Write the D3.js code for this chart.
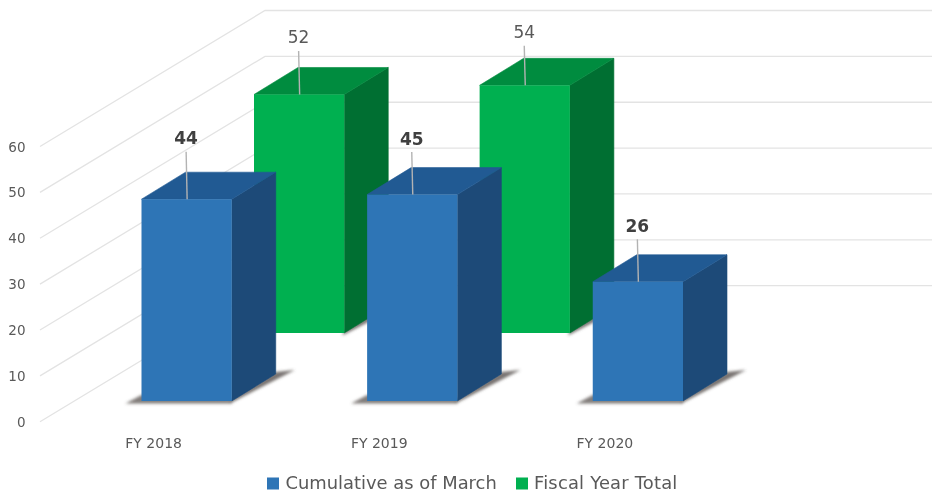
<!DOCTYPE html>
<html>
<head>
<meta charset="utf-8">
<script src="https://cdn.jsdelivr.net/npm/d3@7"></script>
<style>
  html, body { margin: 0; padding: 0; background: #fff; }
  svg { display: block; filter: blur(0.35px); }
  text { font-family: "DejaVu Sans", sans-serif; }
</style>
</head>
<body>
<div id="chart"></div>
<script>
const categories = ["FY 2018", "FY 2019", "FY 2020"];
const seriesNames = ["Fiscal Year Total", "Cumulative as of March"];
const cumulative = [44, 45, 26];
const fiscalTotal = [52, 54, null];
const yTicks = [0, 10, 20, 30, 40, 50, 60];

const width = 932, height = 494;
const svg = d3.select("#chart").append("svg")
    .attr("width", width).attr("height", height);

const defs = svg.append("defs");
defs.append("filter").attr("id", "soft")
    .attr("x", "-20%").attr("y", "-20%").attr("width", "140%").attr("height", "140%")
  .append("feGaussianBlur").attr("stdDeviation", 1.6);

const y = d3.scaleLinear().domain([0, 60]).range([421.7, 146.5]);
const x = d3.scaleBand().domain(categories).range([141.5, 683]).paddingInner(0.6).paddingOuter(0);

// depth of the floor, 0 = front edge, 1 = back wall
const depthX = d3.scaleLinear().domain([0, 1]).range([0, 225]);
const depthY = d3.scaleLinear().domain([0, 1]).range([0, -136]);

// each series sits on its own row of the floor
const rowFront = d3.scaleOrdinal().domain(seriesNames).range([0.5, 0]);
const floorLift = 20.7;      // blue front edge is above the 0 line
const barDepth = 44, barRise = 27;

const colors = {
  "Cumulative as of March": { front: "#2e75b6", top: "#215a93", side: "#1d4a78" },
  "Fiscal Year Total": { front: "#00b050", top: "#008c3f", side: "#006f32" }
};

// the value labels were placed by hand in the original, gap above the bar differs
const labelGap = { 44: 55, 45: 50, 26: 50, 52: 51, 54: 47 };

// grid
const grid = svg.append("g").attr("fill", "none").attr("stroke", "#e3e3e3").attr("stroke-width", 1.3);
yTicks.forEach(t => {
  const x0 = 40, y0 = y(t);
  const x1 = x0 + depthX(1), y1 = y0 + depthY(1);
  grid.append("polyline").attr("points", [[x0, y0], [x1, y1], [width, y1]].join(" "));
});

// y labels
svg.append("g").attr("text-anchor", "end").attr("fill", "#595959").attr("font-size", 13.5)
  .selectAll("text").data(yTicks).join("text")
    .attr("x", 25.5).attr("y", d => y(d) + 0.3)
    .attr("dy", "0.35em")
    .text(d => d);

// x labels
svg.append("g").attr("text-anchor", "middle").attr("fill", "#595959").attr("font-size", 14)
  .selectAll("text").data(categories).join("text")
    .attr("x", d => x(d) + x.bandwidth() / 2 - 33)
    .attr("y", 447.5)
    .text(d => d);

function drawBar(g, name, cat, value) {
  const c = colors[name];
  const bw = x.bandwidth();
  const row = rowFront(name);
  const left = x(cat) + depthX(row);
  const base = y(0) - floorLift + depthY(row);
  const top = base - (y(0) - y(value));
  const right = left + bw;
  const bold = name === "Cumulative as of March";

  // floor shadow: wedge right of the side face, tail on the left of the front face (blue only)
  const shadow = g.append("g").attr("fill", "#55504c").attr("filter", "url(#soft)");
  shadow.append("polygon").attr("opacity", 0.8)
    .attr("points", [[right - 2, base + 2.5], [right + barDepth + 19, base - barRise - 4],
      [right + barDepth, base - barRise - 2], [right, base - 2]].join(" "));
  if (bold) {
    shadow.append("polygon").attr("opacity", 0.75)
      .attr("points", [[left - 16, base + 2.5], [right, base + 2.5], [right, base - 2], [left, base - 6]].join(" "));
  }

  g.append("polygon").attr("fill", c.side).attr("stroke", c.side).attr("stroke-width", 0.6)
    .attr("points", [[right, top], [right + barDepth, top - barRise],
      [right + barDepth, base - barRise], [right, base]].join(" "));
  g.append("polygon").attr("fill", c.top).attr("stroke", c.top).attr("stroke-width", 0.6)
    .attr("points", [[left, top], [left + barDepth, top - barRise],
      [right + barDepth, top - barRise], [right, top]].join(" "));
  g.append("rect").attr("fill", c.front)
    .attr("x", left).attr("y", top).attr("width", bw).attr("height", base - top);

  // leader and value label
  const cx = left + bw / 2;
  const baseline = top - labelGap[value];
  g.append("line").attr("stroke", "#b3b3b3").attr("stroke-width", 1.4)
    .attr("x1", cx - 0.5).attr("y1", baseline + 7.5).attr("x2", cx + 0.5).attr("y2", top);
  g.append("text").attr("text-anchor", "middle")
    .attr("x", cx - 0.5).attr("y", baseline)
    .attr("font-size", 17)
    .attr("font-weight", bold ? "bold" : "normal")
    .attr("fill", bold ? "#404040" : "#595959")
    .text(value);
}

// back row first so the front row covers it
const bars = svg.append("g");
categories.forEach((cat, i) => {
  if (fiscalTotal[i] != null) drawBar(bars.append("g"), "Fiscal Year Total", cat, fiscalTotal[i]);
});
categories.forEach((cat, i) => {
  drawBar(bars.append("g"), "Cumulative as of March", cat, cumulative[i]);
});

// legend
const legendItems = [
  { name: "Cumulative as of March", sx: 267, tx: 285.5, spacing: 0 },
  { name: "Fiscal Year Total", sx: 516, tx: 534, spacing: 0.2 }
];
const legend = svg.append("g");
legendItems.forEach(d => {
  legend.append("rect").attr("x", d.sx).attr("y", 477.5).attr("width", 12).attr("height", 12)
    .attr("fill", colors[d.name].front);
  legend.append("text").attr("x", d.tx).attr("y", 488.5)
    .attr("font-size", 17.9).attr("letter-spacing", d.spacing).attr("fill", "#595959").text(d.name);
});
</script>
</body>
</html>
